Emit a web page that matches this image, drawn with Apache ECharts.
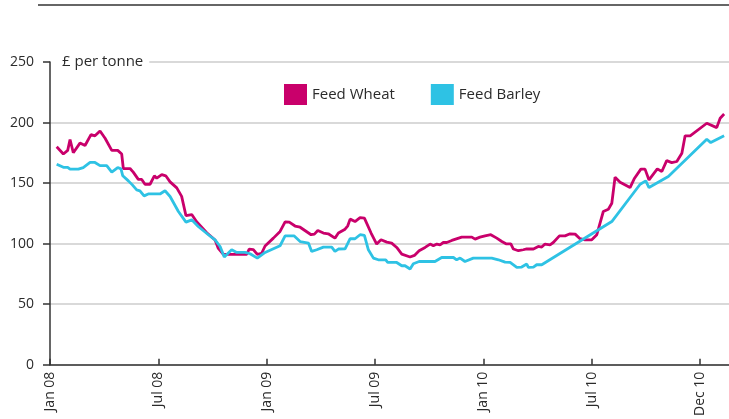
<!DOCTYPE html>
<html>
<head>
<meta charset="utf-8">
<script src="https://cdn.jsdelivr.net/npm/echarts@6/dist/echarts.min.js"></script>
<style>
  html, body { margin: 0; padding: 0; background: #fff; }
  #chart { width: 729px; height: 419px; }
</style>
</head>
<body>
<div id="chart"></div>
<script>
// x values are months counted from Jan 08
const tickLabels = ['Jan 08', 'Jul 08', 'Jan 09', 'Jul 09', 'Jan 10', 'Jul 10', 'Dec 10']

const wheatX = [0.37, 0.74, 0.98, 1.11, 1.29, 1.66, 1.94, 2.27, 2.49, 2.77, 3.05, 3.42, 3.75, 3.97, 4.06, 4.43, 4.61, 4.89, 5.08, 5.26,
  5.54, 5.78, 5.91, 6.19, 6.41, 6.65, 7.02, 7.29, 7.53, 7.85, 8.12, 8.68, 9.14, 9.32, 9.60, 10.89, 11.03, 11.26, 11.48, 11.72,
  11.91, 12.37, 12.74, 13.02, 13.25, 13.57, 13.85, 14.46, 14.64, 14.83, 15.14, 15.41, 15.78, 15.97, 16.34, 16.49, 16.62, 16.89, 17.17, 17.41,
  17.78, 18.09, 18.33, 18.65, 18.92, 19.20, 19.48, 19.94, 20.18, 20.44, 20.77, 21.05, 21.23, 21.42, 21.60, 21.78, 21.97, 22.25, 22.80, 23.36,
  23.54, 23.81, 24.09, 24.41, 24.74, 25.02, 25.25, 25.52, 25.66, 25.94, 26.21, 26.40, 26.77, 27.04, 27.23, 27.41, 27.69, 27.87, 28.21, 28.52,
  28.80, 29.08, 29.35, 29.63, 30.00, 30.28, 30.64, 30.92, 31.11, 31.29, 31.57, 32.12, 32.35, 32.72, 32.95, 33.17, 33.63, 33.88, 34.15, 34.43,
  34.71, 34.99, 35.17, 35.45, 36.37, 36.92, 37.11, 37.33]
const wheatPrice = [180, 174, 177, 186, 175, 183, 181, 190, 189, 193, 187, 177, 177, 174, 162, 162, 159, 153, 153, 149,
  149, 156, 154, 157, 156, 151, 146, 139, 123, 124, 118, 109, 103, 96, 91, 91, 95.5, 95, 91, 92,
  98, 104.5, 110, 118, 117.7, 114.5, 113.5, 107.3, 107.8, 110.8, 108.7, 108.1, 104.5, 108.7, 111.9, 114.7, 120.2, 118.2, 121.5, 121,
  108.7, 99.6, 103.1, 101.2, 100.4, 96.8, 91.3, 88.9, 90.2, 94.1, 96.8, 99.6, 98.2, 99.6, 99, 100.9, 100.9, 102.6, 105.3, 105.3,
  103.7, 105.3, 106.4, 107.3, 104.5, 101.7, 99.8, 99.8, 95.5, 94.1, 94.9, 95.7, 95.5, 97.6, 97.1, 99.6, 99, 100.9, 106.4, 106.4,
  108.1, 107.8, 104, 103.1, 103.1, 107.3, 126.5, 128.4, 133.3, 154.8, 150.7, 146.3, 153.5, 161.5, 161.5, 152.6, 161.7, 159.5, 168.5, 166.9,
  167.8, 174.7, 189, 189, 199.4, 195.8, 203.5, 207]

const barleyX = [0.37, 0.74, 0.98, 1.11, 1.57, 1.84, 2.22, 2.49, 2.77, 3.14, 3.42, 3.75, 3.93, 4.03, 4.34, 4.56, 4.80, 4.98, 5.21, 5.44,
  6.09, 6.37, 6.65, 7.11, 7.53, 7.85, 8.21, 8.77, 9.14, 9.42, 9.65, 10.06, 10.34, 10.80, 11.08, 11.48, 11.91, 12.74, 13.02, 13.51,
  13.85, 14.31, 14.49, 14.77, 15.14, 15.60, 15.78, 15.97, 16.34, 16.62, 16.89, 17.17, 17.41, 17.63, 17.91, 18.18, 18.59, 18.70, 19.20, 19.48,
  19.66, 19.94, 20.12, 20.44, 21.32, 21.69, 22.34, 22.52, 22.71, 22.98, 23.44, 24.46, 24.83, 25.20, 25.48, 25.85, 26.12, 26.40, 26.49, 26.77,
  26.95, 27.23, 31.11, 32.68, 32.99, 33.17, 34.24, 36.37, 36.59, 37.33]
const barleyPrice = [165.6, 163, 163, 161.5, 161.5, 162.8, 167, 167, 164.4, 164.4, 159, 162.8, 161.7, 156, 151.8, 148.5, 144.4, 143.6, 139.4, 141,
  141, 143.6, 138.9, 126.5, 117.7, 119.6, 114.1, 107.3, 103.1, 97.6, 88.9, 94.9, 92.7, 92.7, 91.6, 88, 92.7, 98.2, 106.4, 106.4,
  101.7, 100.4, 93.5, 94.9, 97.1, 97.1, 93.5, 95.5, 95.7, 104, 104, 107.3, 106.7, 94.9, 88, 86.6, 86.6, 84.4, 84.4, 81.7,
  81.7, 79, 83.3, 85.2, 85.2, 88.5, 88.5, 86.6, 88, 85.2, 88, 88, 86.6, 84.7, 84.4, 80.3, 80.6, 83.1, 80.3, 80.6,
  82.5, 82.5, 118.2, 149, 151.8, 146.3, 155.4, 186.2, 183.4, 189]

const pairs = (xs, ys) => xs.map((x, i) => [x, ys[i]])

const textColor = '#2b2b2b'
const font = 'Open Sans'

const chart = echarts.init(document.getElementById('chart'))

chart.setOption({
  animation: false,
  backgroundColor: '#fff',
  grid: {
    left: 50,
    right: 0,
    top: 62,
    bottom: 54
  },
  graphic: [
    {
      type: 'line',
      shape: { x1: 38, y1: 5, x2: 729, y2: 5 },
      style: { stroke: '#333', lineWidth: 1.5 }
    }
  ],
  legend: {
    left: 284,
    top: 84,
    padding: 0,
    icon: 'rect',
    itemWidth: 23,
    itemHeight: 21,
    itemGap: 36,
    textStyle: {
      color: textColor,
      fontFamily: font,
      fontSize: 15
    },
    data: ['Feed Wheat', 'Feed Barley']
  },
  xAxis: {
    type: 'value',
    min: 0,
    max: 37.6,
    interval: 6,
    axisLine: {
      lineStyle: { color: '#333', width: 1.5 }
    },
    axisTick: {
      show: true,
      inside: true,
      length: 6,
      lineStyle: { color: '#333', width: 1.5 }
    },
    splitLine: { show: false },
    axisLabel: {
      rotate: 90,
      margin: 7,
      color: textColor,
      fontFamily: font,
      fontSize: 14,
      showMaxLabel: false,
      formatter: function(v) {
        const i = v / 6
        return Number.isInteger(i) && tickLabels[i] ? tickLabels[i] : ''
      }
    }
  },
  yAxis: {
    type: 'value',
    min: 0,
    max: 250,
    interval: 50,
    name: '£ per tonne',
    nameLocation: 'end',
    nameGap: 0,
    nameTextStyle: {
      color: textColor,
      fontFamily: font,
      fontSize: 15,
      align: 'left',
      verticalAlign: 'middle',
      backgroundColor: '#fff',
      padding: [0, 6, 0, 12]
    },
    axisLine: {
      show: true,
      lineStyle: { color: '#333', width: 1.5 }
    },
    axisTick: {
      show: true,
      length: 7,
      lineStyle: { color: '#333', width: 1.5 }
    },
    axisLabel: {
      margin: 16,
      color: textColor,
      fontFamily: font,
      fontSize: 14
    },
    splitLine: {
      lineStyle: { color: '#cccccc', width: 1.5 }
    }
  },
  series: [
    {
      name: 'Feed Wheat',
      type: 'line',
      data: pairs(wheatX, wheatPrice),
      showSymbol: false,
      itemStyle: { color: '#c9006b' },
      lineStyle: { color: '#c9006b', width: 2.8 }
    },
    {
      name: 'Feed Barley',
      type: 'line',
      data: pairs(barleyX, barleyPrice),
      showSymbol: false,
      itemStyle: { color: '#2ec2e4' },
      lineStyle: { color: '#2ec2e4', width: 2.8 }
    }
  ]
})
</script>
</body>
</html>
